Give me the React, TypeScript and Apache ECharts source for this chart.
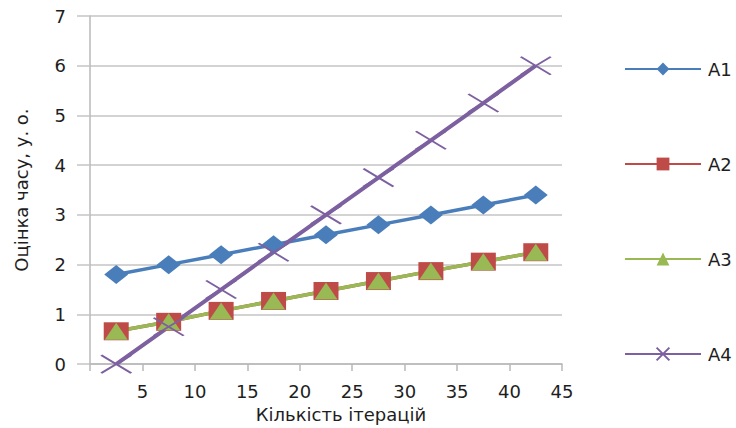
import React, { useEffect, useRef } from "react";
import * as echarts from "echarts";

// Iteration counts at which each estimate was taken
const iterations = [2.5, 7.5, 12.5, 17.5, 22.5, 27.5, 32.5, 37.5, 42.5];

// Time estimates (conventional units)
const a1 = [1.8, 2.0, 2.2, 2.4, 2.6, 2.8, 3.0, 3.2, 3.4];
const a2 = [0.66, 0.85, 1.07, 1.27, 1.47, 1.67, 1.87, 2.06, 2.25];
const a3 = [0.66, 0.85, 1.07, 1.27, 1.47, 1.67, 1.87, 2.06, 2.25];
const a4 = [0, 0.75, 1.5, 2.25, 3.0, 3.75, 4.5, 5.25, 6.0];

const seriesNames = ["A1", "A2", "A3", "A4"];

const FONT = "DejaVu Sans, Liberation Sans, Arial, sans-serif";
const TEXT = "#1e1e1e";
const CROSS = "path://M0,0L30,18M30,0L0,18";

function pairs(ys: number[]) {
  return iterations.map((x, i) => [x, ys[i]]);
}

export default function App() {
  const ref = useRef<HTMLDivElement>(null);

  useEffect(() => {
    if (!ref.current) return;
    const chart = echarts.init(ref.current, undefined, { renderer: "svg" });
    chart.setOption({
      animation: false,
      backgroundColor: "#ffffff",
      textStyle: { fontFamily: FONT },
      grid: { left: 90, right: 174, top: 16, bottom: 63, containLabel: false },
      legend: {
        orient: "vertical",
        left: 619,
        top: 55,
        itemWidth: 76,
        itemHeight: 16,
        itemGap: 77,
        data: seriesNames,
        textStyle: { fontFamily: FONT, fontSize: 18, color: TEXT, padding: [0, 0, 0, 2] },
      },
      xAxis: {
        type: "value",
        min: 0,
        max: 45,
        interval: 5,
        name: "Кількість ітерацій",
        nameLocation: "middle",
        nameGap: 37,
        nameTextStyle: { fontFamily: FONT, fontSize: 18, color: TEXT, padding: [0, 0, 0, 30] },
        axisLine: { show: true, lineStyle: { color: "#b8b8b8", width: 1.5 } },
        axisTick: { show: true, length: 7, lineStyle: { color: "#b8b8b8", width: 1.5 } },
        axisLabel: {
          fontFamily: FONT,
          fontSize: 18,
          color: TEXT,
          margin: 18,
          formatter: (v: number) => (v === 0 ? "" : String(v)),
        },
        splitLine: { show: false },
      },
      yAxis: {
        type: "value",
        min: 0,
        max: 7,
        interval: 1,
        name: "Оцінка часу, у. о.",
        nameLocation: "middle",
        nameGap: 60,
        nameTextStyle: { fontFamily: FONT, fontSize: 18, color: TEXT },
        axisLine: { show: true, lineStyle: { color: "#b8b8b8", width: 1.5 } },
        axisTick: { show: true, length: 13, lineStyle: { color: "#c4c4c4", width: 1.5 } },
        axisLabel: { fontFamily: FONT, fontSize: 18, color: TEXT, margin: 24 },
        splitLine: { show: true, lineStyle: { color: "#c4c4c4", width: 1.5 } },
      },
      series: [
        {
          name: "A1",
          type: "line",
          data: pairs(a1),
          symbol: "diamond",
          symbolSize: [24, 19],
          lineStyle: { color: "#4a7ebb", width: 3.5 },
          itemStyle: { color: "#4a7ebb" },
        },
        {
          name: "A2",
          type: "line",
          data: pairs(a2),
          symbol: "rect",
          symbolSize: [25, 18],
          lineStyle: { color: "#be4b48", width: 3.5 },
          itemStyle: { color: "#be4b48" },
        },
        {
          name: "A3",
          type: "line",
          data: pairs(a3),
          symbol: "triangle",
          symbolSize: [23, 17],
          lineStyle: { color: "#98b954", width: 3.5 },
          itemStyle: { color: "#98b954" },
        },
        {
          name: "A4",
          type: "line",
          data: pairs(a4),
          symbol: CROSS,
          symbolSize: [30, 18],
          lineStyle: { color: "#7d60a0", width: 4 },
          itemStyle: { color: "transparent", borderColor: "#7d60a0", borderWidth: 2 },
        },
      ],
    });
    return () => chart.dispose();
  }, []);

  return (
    <div
      ref={ref}
      style={{ position: "absolute", left: 0, top: 0, width: 736, height: 428 }}
    />
  );
}
